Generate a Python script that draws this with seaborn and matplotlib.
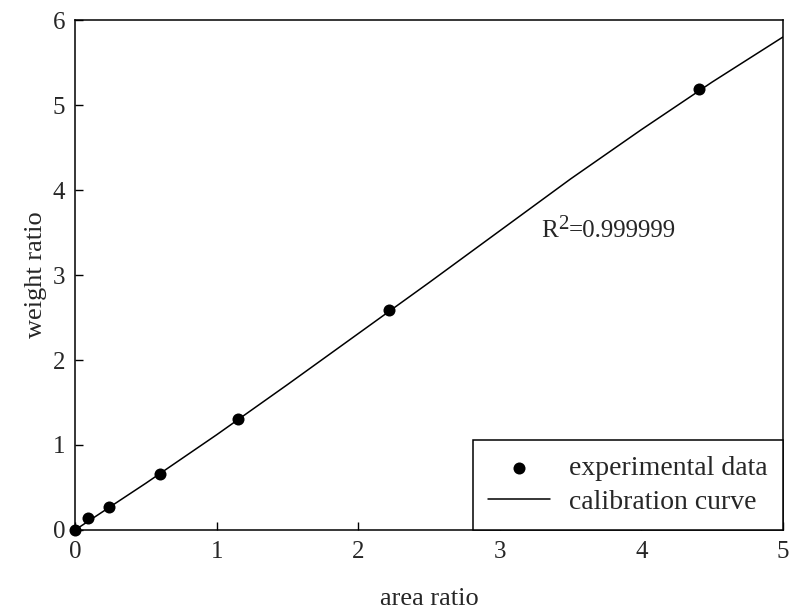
import numpy as np
import pandas as pd
import matplotlib
matplotlib.use("Agg")
import matplotlib.pyplot as plt
import seaborn as sns

# experimental points
area_ratio = [0.0, 0.09, 0.24, 0.60, 1.15, 2.22, 4.41]
weight_ratio = [0.0, 0.14, 0.27, 0.66, 1.30, 2.59, 5.19]

# calibration curve
curve_x = [0.0, 0.5, 1.0, 1.5, 2.0, 2.5, 3.0, 3.5, 4.0, 4.5, 5.0]
curve_y = [0.0, 0.55, 1.12, 1.71, 2.31, 2.91, 3.52, 4.13, 4.71, 5.27, 5.80]

x_ticks = [0, 1, 2, 3, 4, 5]
y_ticks = [0, 1, 2, 3, 4, 5, 6]

sns.set_style("white")
plt.rcParams['font.family'] = ['Liberation Serif', 'DejaVu Serif']
plt.rcParams['xtick.direction'] = 'in'
plt.rcParams['ytick.direction'] = 'in'

fig = plt.figure(figsize=(7.9, 6.11), dpi=100)
ax = fig.add_axes([0.095, 0.1326, 0.896, 0.8346])

pts = pd.DataFrame({'x': area_ratio, 'y': weight_ratio})
cal = pd.DataFrame({'x': curve_x, 'y': curve_y})

sns.lineplot(data=cal, x='x', y='y', ax=ax, color='black', linewidth=1.1,
             label='calibration curve', sort=False)
sns.scatterplot(data=pts, x='x', y='y', ax=ax, color='black', s=75,
                edgecolor='black', linewidth=0, label='experimental data',
                clip_on=False, zorder=5)

ax.set_xlim(0, 5)
ax.set_ylim(0, 6)
ax.set_xticks(x_ticks)
ax.set_yticks(y_ticks)
ax.tick_params(axis='both', length=6, width=1, labelsize=18, color='black',
               bottom=True, left=True)
ax.tick_params(axis='x', pad=8)
ax.tick_params(axis='y', pad=7)
for s in ax.spines.values():
    s.set_color('black')
    s.set_linewidth(1.1)

ax.set_xlabel('area ratio', fontsize=19, labelpad=18)
ax.set_ylabel('weight ratio', fontsize=19, labelpad=4)

# R^2 label with a large superscript
r_txt = ax.text(3.29, 3.45, 'R', fontsize=18, va='baseline', ha='left')
sup = ax.annotate('2', xy=(1, 3.45), xycoords=(r_txt, 'data'),
                  xytext=(0.5, 8), textcoords='offset pixels',
                  fontsize=15, va='baseline', ha='left')
ax.annotate('=0.999999', xy=(1, 3.45), xycoords=(sup, 'data'),
            xytext=(0, 0), textcoords='offset pixels',
            fontsize=18, va='baseline', ha='left')

handles, labels = ax.get_legend_handles_labels()
order = [labels.index('experimental data'), labels.index('calibration curve')]
leg = ax.legend([handles[i] for i in order], [labels[i] for i in order],
                loc='lower right', borderaxespad=0, fontsize=20,
                fancybox=False, frameon=True, edgecolor='black',
                handlelength=2.2, handletextpad=0.7, borderpad=0.55,
                labelspacing=0.3)
leg.get_frame().set_linewidth(1.1)
leg.get_frame().set_alpha(1)

fig.savefig('out.png', dpi=100)
